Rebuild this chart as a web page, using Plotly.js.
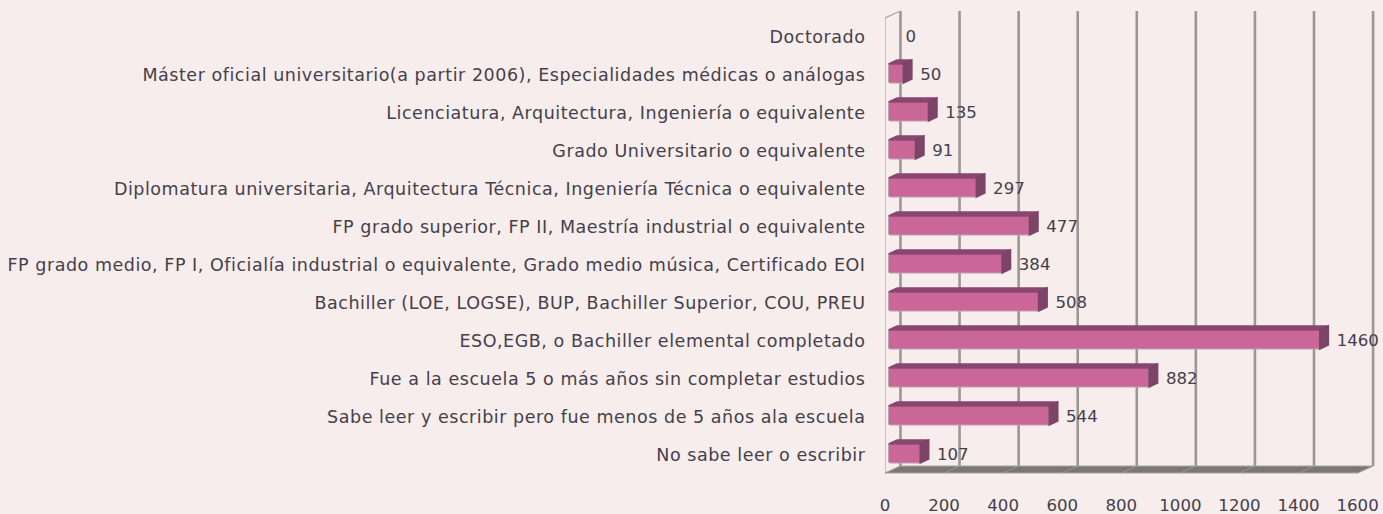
<!DOCTYPE html>
<html><head><meta charset="utf-8">
<script src="https://cdn.plot.ly/plotly-3.0.1.min.js"></script>
<style>html,body{margin:0;padding:0;background:#f7eded}#c{width:1383px;height:514px}
#c .ytick text{letter-spacing:0.54px}</style>
</head><body><div id="c"></div>
<script>
const categories = ["Doctorado","Máster oficial universitario(a partir 2006), Especialidades médicas o análogas","Licenciatura, Arquitectura, Ingeniería o equivalente","Grado Universitario o equivalente","Diplomatura universitaria, Arquitectura Técnica, Ingeniería Técnica o equivalente","FP grado superior, FP II, Maestría industrial o equivalente","FP grado medio, FP I, Oficialía industrial o equivalente, Grado medio música, Certificado EOI","Bachiller (LOE, LOGSE), BUP, Bachiller Superior, COU, PREU","ESO,EGB, o Bachiller elemental completado","Fue a la escuela 5 o más años sin completar estudios","Sabe leer y escribir pero fue menos de 5 años ala escuela","No sabe leer o escribir"];
const values = [0,50,135,91,297,477,384,508,1460,882,544,107];
const xTicks = [0,200,400,600,800,1000,1200,1400,1600];

const font = "'DejaVu Sans', sans-serif", textCol = "#45404a", fs = 16.6, catFs = 17.5;
const base = 12, dx = 29, dy = 0.105, half = 0.25, cOff = -0.04;
const backX = 52.4, backY = 0.01515;
const ys = categories.map((_, i) => i);
const topX = [], topY = [], sideX = [], sideY = [];
values.forEach((v, i) => {
  if (!v) return;
  const x0 = base, x1 = base + v, t = i + cOff - half, b = i + cOff + half;
  topX.push(x0, x0 + dx, x1 + dx, x1, x0, null);
  topY.push(t, t - dy, t - dy, t, t, null);
  sideX.push(x1, x1 + dx, x1 + dx, x1, x1, null);
  sideY.push(t, t - dy, b - dy, b, t, null);
});

const traces = [
  {type:"bar", orientation:"h", y:ys, x:values.map(v => v || null), base:base, width:0.5, offset:cOff-half,
   marker:{color:"#cb6798", line:{color:"#b9a0ae", width:1}, cornerradius:2}, hoverinfo:"skip"},
  {type:"scatter", mode:"lines", x:topX, y:topY, fill:"toself", fillcolor:"#8a4670",
   line:{color:"#8a4670", width:1.5}, hoverinfo:"skip"},
  {type:"scatter", mode:"lines", x:sideX, y:sideY, fill:"toself", fillcolor:"#7c4467",
   line:{color:"#7c4467", width:1.5}, hoverinfo:"skip"},
  {type:"scatter", mode:"text", x:values.map(v => base + v + (v ? dx + 28 : 57)), y:ys.map(i => i + 0.03),
   text:values.map(String), textposition:"middle right", cliponaxis:false,
   textfont:{family:font, size:fs, color:textCol}, hoverinfo:"skip"}
];

const shapes = [];
const gridCol = "#9b9795";
xTicks.forEach(t => shapes.push({type:"line", layer:"below", xref:"x", yref:"paper", x0:t+backX, x1:t+backX, y0:backY, y1:1, line:{color:gridCol, width:2.6}}));
shapes.push({type:"line", layer:"below", xref:"x", yref:"paper", x0:0, x1:0, y0:0, y1:0.985, line:{color:"#aaa6a4", width:1.3}});
shapes.push({type:"line", layer:"below", xref:"x", yref:"paper", x0:0, x1:backX, y0:0.985, y1:1, line:{color:"#aaa6a4", width:1.3}});
shapes.push({type:"path", layer:"below", xref:"x", yref:"paper",
  path:`M0,0 L1600,0 L${1600+backX},${backY} L${backX},${backY} Z`,
  fillcolor:"#7b7776", line:{color:"#a8a4a2", width:1}});
xTicks.forEach(t => shapes.push({type:"line", layer:"below", xref:"x", yref:"paper", x0:t, x1:t+backX, y0:0, y1:backY, line:{color:"#a09c9a", width:0.8}}));

const layout = {
  width:1383, height:514, paper_bgcolor:"#f7eded", plot_bgcolor:"#f7eded", showlegend:false,
  margin:{l:884.5, r:0, t:11, b:41},
  font:{family:font, size:fs, color:textCol},
  xaxis:{range:[0,1686], tickvals:xTicks, ticktext:xTicks.map(String), showgrid:false, zeroline:false, showline:false,
    ticks:"outside", ticklen:17, tickcolor:"rgba(0,0,0,0)", tickfont:{family:font, size:fs, color:textCol}},
  yaxis:{range:[11.474,-0.684], tickmode:"array", tickvals:ys, ticktext:categories, showgrid:false, zeroline:false, showline:false,
    ticks:"outside", ticklen:15, tickcolor:"rgba(0,0,0,0)", tickfont:{family:font, size:catFs, color:textCol}},
  shapes, bargap:0
};
Plotly.newPlot("c", traces, layout, {displayModeBar:false, staticPlot:true});
</script></body></html>
